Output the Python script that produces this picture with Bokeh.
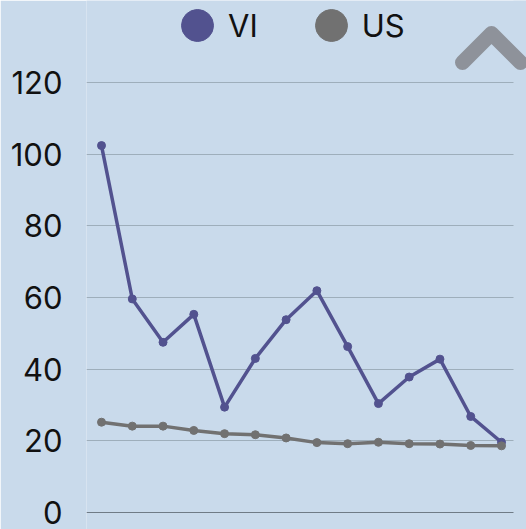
from bokeh.plotting import figure
from bokeh.models import (Range1d, FixedTicker, Grid, BoxAnnotation, Legend,
                          LegendItem, ColumnDataSource)
from bokeh.embed import file_html
from bokeh.resources import INLINE

# ---- data ----
periods = list(range(14))
vi_values = [102.4, 59.6, 47.5, 55.3, 29.4, 43.0, 53.8, 61.9, 46.3, 30.4, 37.8, 42.8, 26.8, 19.6]
us_values = [25.2, 24.1, 24.1, 22.9, 22.0, 21.7, 20.8, 19.5, 19.2, 19.6, 19.2, 19.1, 18.7, 18.6]
series_names = ["VI", "US"]
y_ticks = [0, 20, 40, 60, 80, 100, 120]

# ---- style ----
BG = "#c9daeb"
VI_COLOR = "#52528f"
US_COLOR = "#717171"
GRID_COLOR = "#9eaebb"
ZERO_COLOR = "#6f7b86"
ICON_COLOR = "#8e929a"
FONT = "Inter"

p = figure(width=526, height=529, output_backend="svg", toolbar_location=None,
           x_range=Range1d(-0.4875, 13.8125), y_range=Range1d(-4.744, 142.88),
           x_axis_location=None, min_border_left=86, min_border_right=0,
           min_border_top=0, min_border_bottom=0)
p.background_fill_color = BG
p.border_fill_color = BG
p.outline_line_color = None

p.xgrid.visible = False
p.ygrid.ticker = FixedTicker(ticks=[t for t in y_ticks if t != 0])
p.ygrid.grid_line_color = GRID_COLOR
p.ygrid.grid_line_width = 1
zero_grid = Grid(dimension=1, ticker=FixedTicker(ticks=[0]),
                 grid_line_color=ZERO_COLOR, grid_line_width=1)
p.add_layout(zero_grid, "center")
# grid lines stop short of the right edge
p.add_layout(BoxAnnotation(left=13.39, fill_color=BG, fill_alpha=1.0,
                           line_color=None, level="underlay"), "center")

ax = p.yaxis[0]
ax.ticker = FixedTicker(ticks=y_ticks)
ax.axis_line_color = None
ax.major_tick_line_color = None
ax.minor_tick_line_color = None
ax.major_tick_out = 0
ax.major_label_standoff = 24
ax.major_label_text_font = FONT
ax.major_label_text_font_size = "31px"
ax.major_label_text_color = "#111111"

src = ColumnDataSource(dict(x=periods, vi=vi_values, us=us_values))
p.line("x", "vi", source=src, line_width=3.5, color=VI_COLOR)
p.scatter("x", "vi", source=src, size=8, color=VI_COLOR)
p.line("x", "us", source=src, line_width=3.5, color=US_COLOR)
p.scatter("x", "us", source=src, size=8, color=US_COLOR)

# legend swatches: round ellipses placed outside the visible range
vi_key = p.ellipse(x=[-100], y=[-100], width=32, height=32, width_units="screen",
                   height_units="screen", color=VI_COLOR)
us_key = p.ellipse(x=[-100], y=[-100], width=32, height=32, width_units="screen",
                   height_units="screen", color=US_COLOR)

# collapse icon (decoration)
icon_x = [11.733, 12.675, 13.618]
icon_y = [125.58, 133.67, 125.58]
p.line(icon_x, icon_y, line_width=15, line_cap="round", line_join="round",
       color=ICON_COLOR)

legend = Legend(items=[LegendItem(label=series_names[0], renderers=[vi_key]),
                       LegendItem(label=series_names[1], renderers=[us_key])],
                orientation="horizontal", location=(91, 484),
                glyph_width=40, glyph_height=40, label_height=40,
                label_standoff=11, spacing=53,
                padding=0, margin=0, border_line_color=None,
                background_fill_alpha=0, label_text_font=FONT,
                label_text_font_size="31px", label_text_color="#111111")
p.add_layout(legend, "center")

html = file_html(p, INLINE)
open("out.html", "w").write(html)
